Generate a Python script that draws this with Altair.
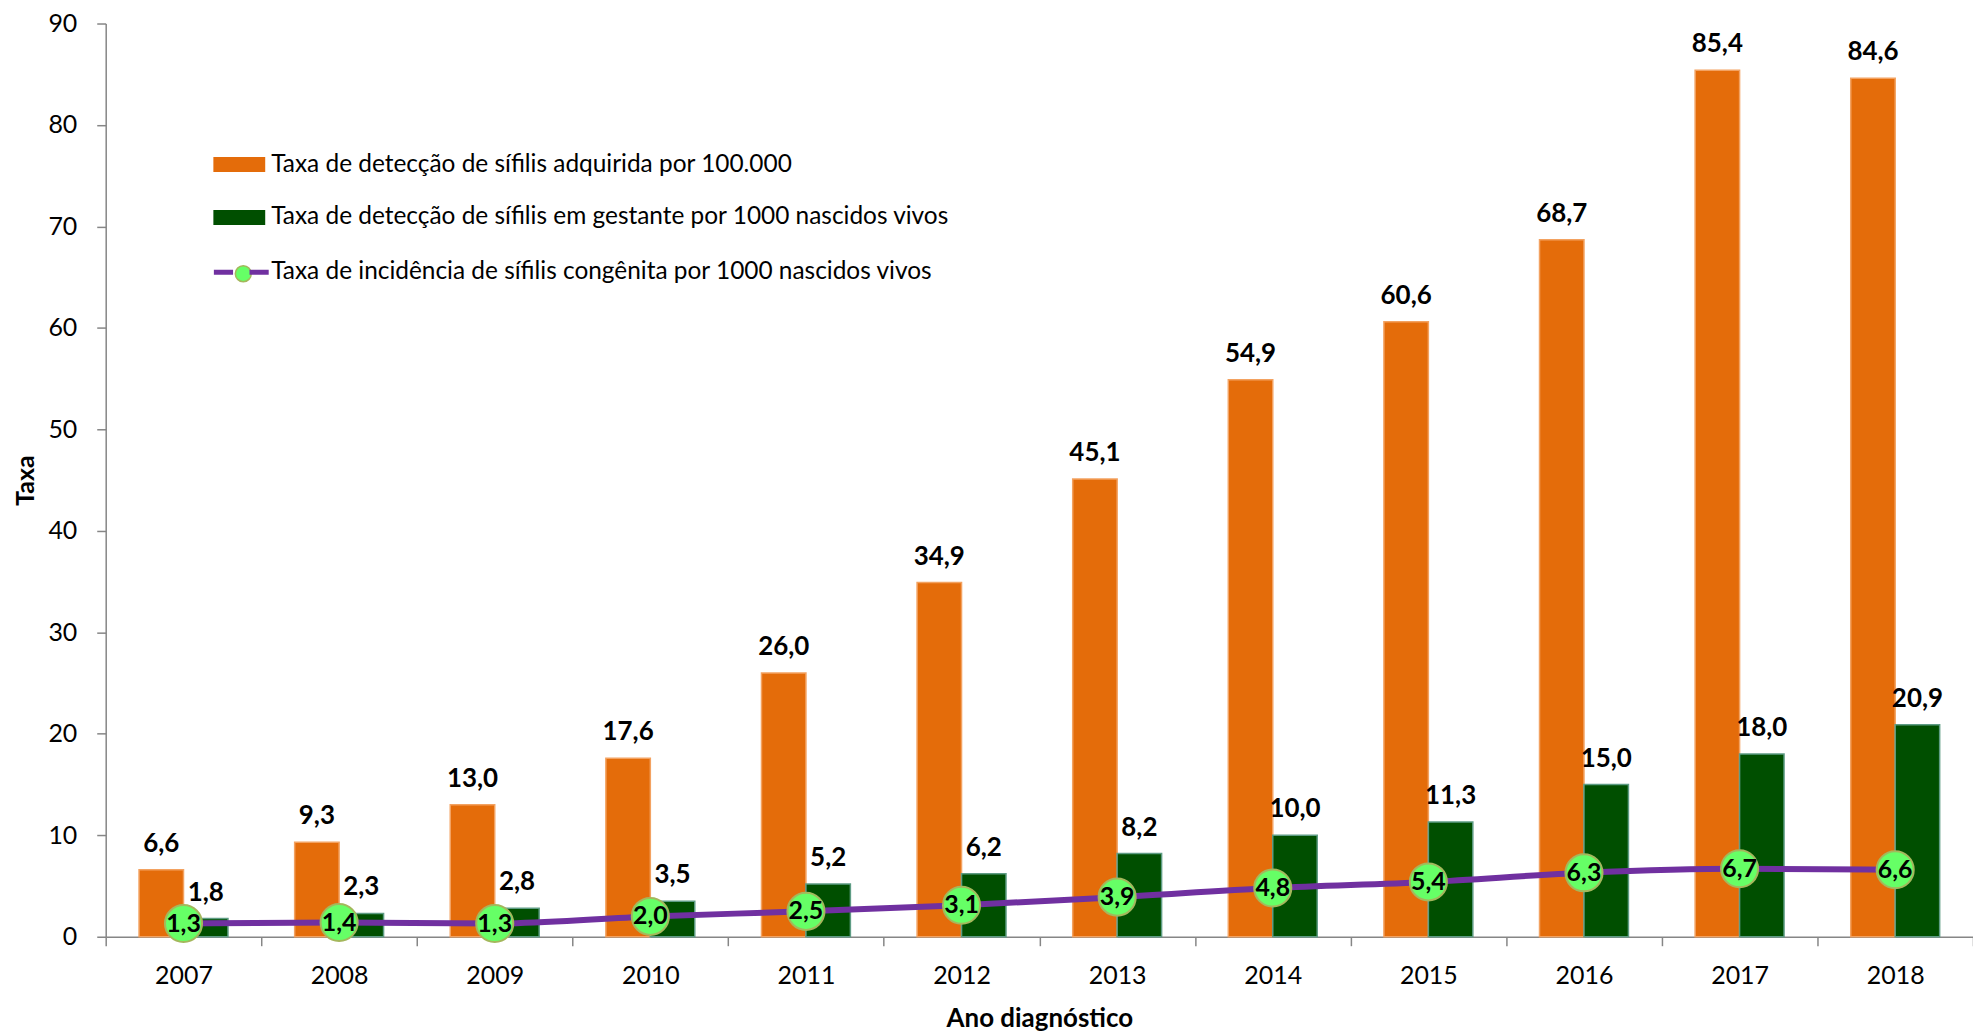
import altair as alt
import pandas as pd

anos = ["2007", "2008", "2009", "2010", "2011", "2012", "2013", "2014", "2015", "2016", "2017", "2018"]
adquirida = [6.6, 9.3, 13.0, 17.6, 26.0, 34.9, 45.1, 54.9, 60.6, 68.7, 85.4, 84.6]
gestante = [1.8, 2.3, 2.8, 3.5, 5.2, 6.2, 8.2, 10.0, 11.3, 15.0, 18.0, 20.9]
congenita = [1.3, 1.4, 1.3, 2.0, 2.5, 3.1, 3.9, 4.8, 5.4, 6.3, 6.7, 6.6]

s1 = "Taxa de detecção de sífilis adquirida por 100.000"
s2 = "Taxa de detecção de sífilis em gestante por 1000 nascidos vivos"
s3 = "Taxa de incidência de sífilis congênita por 1000 nascidos vivos"

ORANGE = "#E46C0A"
GREEN = "#004F00"
PURPLE = "#7030A0"
LIME = "#66FF66"
FONT = "Lato"


def fmt(v):
    return f"{v:.1f}".replace(".", ",")


rows = []
for a, v in zip(anos, adquirida):
    rows.append({"ano": a, "serie": s1, "valor": v, "rotulo": fmt(v)})
for a, v in zip(anos, gestante):
    rows.append({"ano": a, "serie": s2, "valor": v, "rotulo": fmt(v)})
bars_df = pd.DataFrame(rows)

line_df = pd.DataFrame({"ano": anos, "valor": congenita,
                        "rotulo": [fmt(v) for v in congenita], "serie": s3})

x_enc = alt.X("ano:N", sort=anos,
              scale=alt.Scale(paddingInner=0, paddingOuter=0),
              axis=alt.Axis(tickBand="extent", labelAngle=0, tickSize=9,
                            domainColor="#868686", tickColor="#868686",
                            domainWidth=1.5, tickWidth=1.5,
                            labelFont=FONT, labelFontSize=25, labelColor="black",
                            labelPadding=18,
                            title="Ano diagnóstico", titleFont=FONT, titleFontSize=26,
                            titleFontWeight="bold", titleColor="black",
                            titleY=90, titleBaseline="alphabetic"))
y_enc = alt.Y("valor:Q",
              scale=alt.Scale(domain=[0, 90], nice=False),
              axis=alt.Axis(values=list(range(0, 91, 10)), grid=False, tickSize=9,
                            domainColor="#868686", tickColor="#868686",
                            domainWidth=1.5, tickWidth=1.5,
                            labelFont=FONT, labelFontSize=25, labelColor="black",
                            labelPadding=20,
                            title="Taxa", titleFont=FONT, titleFontSize=25,
                            titleFontWeight="bold", titleColor="black",
                            titleX=-80, titleBaseline="middle", titleAlign="center"))
xoff = alt.XOffset("serie:N", sort=[s1, s2],
                   scale=alt.Scale(domain=[s1, s2], paddingInner=0, paddingOuter=0.75))

bars = alt.Chart(bars_df).mark_bar(strokeWidth=1.5).encode(
    x=x_enc, y=y_enc, xOffset=xoff,
    color=alt.Color("serie:N", scale=alt.Scale(domain=[s1, s2], range=[ORANGE, GREEN]),
                    legend=alt.Legend(orient="none", legendX=108, legendY=115.5, title=None,
                                      symbolType="M-1,-0.29H1V0.29H-1Z", symbolSize=2704,
                                      symbolStrokeWidth=0,
                                      labelFont=FONT, labelFontSize=24.5, labelColor="black",
                                      labelOffset=6, rowPadding=15, padding=0,
                                      labelLimit=1000)),
    stroke=alt.Stroke("serie:N", scale=alt.Scale(domain=[s1, s2], range=["#F3A261", "#5E9C84"]),
                      legend=None),
)

bar_labels = alt.Chart(bars_df).mark_text(font=FONT, fontSize=26, fontWeight="bold",
                                          color="black", baseline="alphabetic", dy=-18).encode(
    x=alt.X("ano:N", sort=anos), y="valor:Q", xOffset=alt.XOffset("serie:N", sort=[s1, s2]),
    text="rotulo:N",
)

line = alt.Chart(line_df).mark_line(strokeWidth=6, interpolate="monotone").encode(
    x=alt.X("ano:N", sort=anos), y="valor:Q",
    stroke=alt.Stroke("serie:N", scale=alt.Scale(domain=[s3], range=[PURPLE]),
                      legend=alt.Legend(orient="none", legendX=106, legendY=219.5, title=None,
                                        symbolType="M-1,0H-0.3M0.3,0H1", symbolSize=3025,
                                        symbolStrokeWidth=5, symbolStrokeColor=PURPLE,
                                        labelFont=FONT, labelFontSize=24.5, labelColor="black",
                                        labelOffset=0, padding=0, labelLimit=1000)),
)

points = alt.Chart(line_df).mark_circle(size=1385, opacity=1, stroke="#A4B75C",
                                        strokeWidth=2).encode(
    x=alt.X("ano:N", sort=anos), y="valor:Q",
    fill=alt.Fill("serie:N", scale=alt.Scale(domain=[s3], range=[LIME]),
                  legend=alt.Legend(orient="none", legendX=126, legendY=239, title=None,
                                    symbolType="circle", symbolSize=256,
                                    symbolStrokeColor="#A4B75C", symbolStrokeWidth=1.5,
                                    symbolOpacity=1, labelExpr="''",
                                    labelFont=FONT, labelFontSize=24,
                                    padding=0, labelLimit=1000)),
)

point_labels = alt.Chart(line_df).mark_text(font=FONT, fontSize=25, fontWeight="bold",
                                            color="black", baseline="middle").encode(
    x=alt.X("ano:N", sort=anos), y="valor:Q", text="rotulo:N",
)

chart = alt.layer(bars, bar_labels, line, points, point_labels).resolve_scale(
    stroke="independent"
).properties(
    width=1873, height=916,
    autosize=alt.AutoSizeParams(type="none"),
    padding={"left": 98, "top": 14, "right": 0, "bottom": 96},
    background="white",
).configure_view(stroke=None)

chart.save("out.html", embed_options={"renderer": "svg", "actions": False})
